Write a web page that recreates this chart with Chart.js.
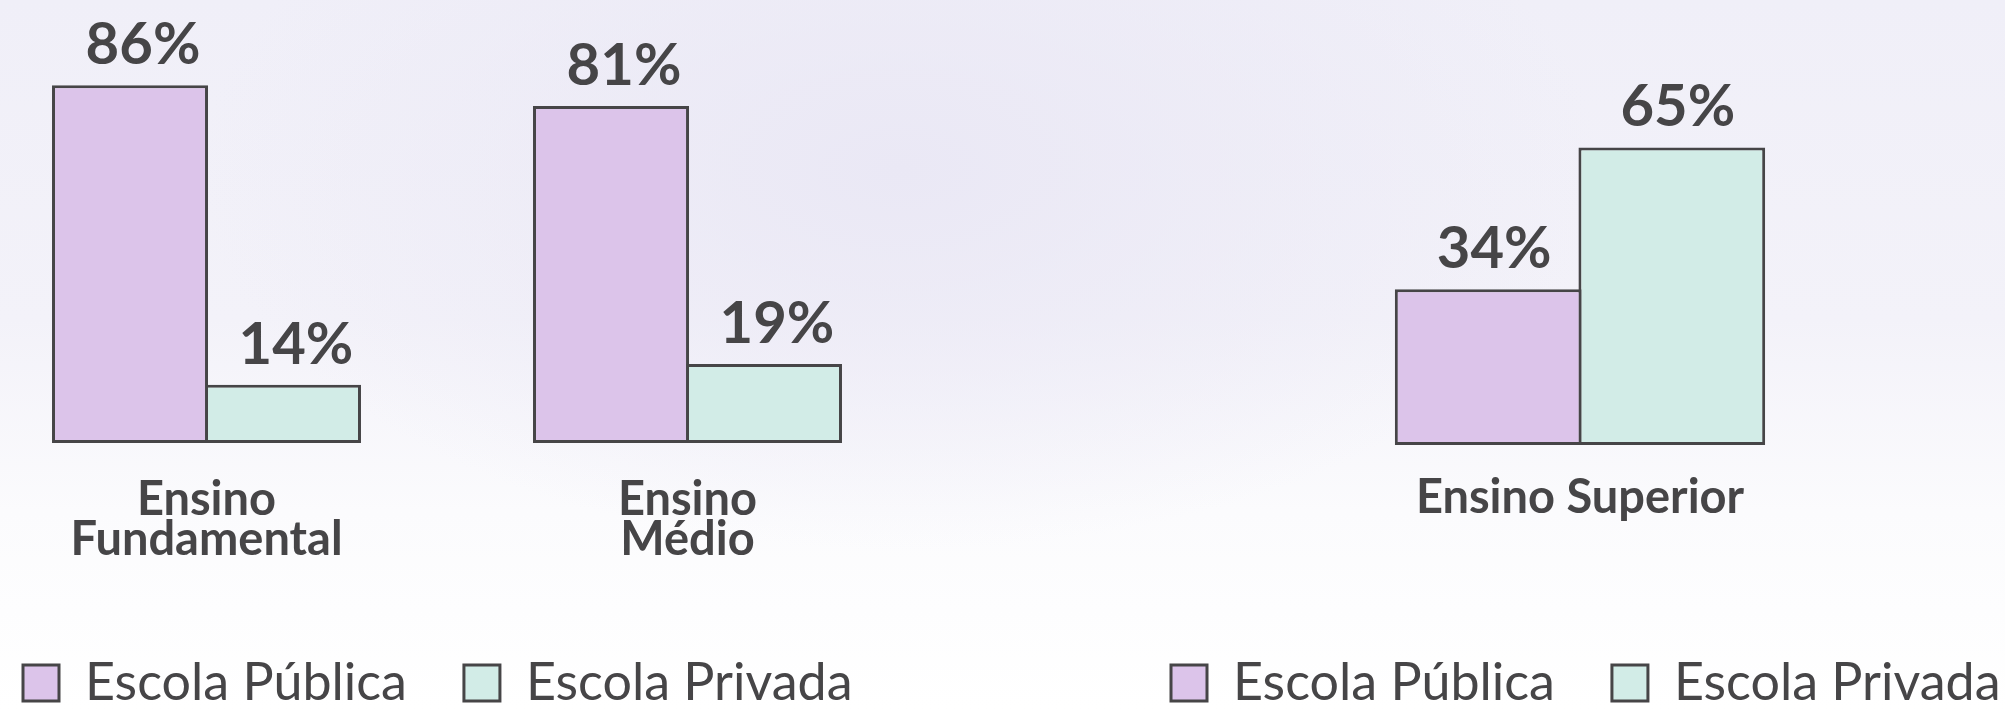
<!DOCTYPE html>
<html lang="pt-BR">
  <head>
    <meta charset="UTF-8" />
    <title>Escola Pública x Escola Privada</title>
    <script src="https://cdn.jsdelivr.net/npm/chart.js"></script>
    <style>
      * {
        margin: 0;
        padding: 0;
        box-sizing: border-box;
      }
      html,
      body {
        width: 2005px;
        height: 710px;
        overflow: hidden;
      }
      body {
        position: relative;
        font-family: Lato, sans-serif;
        background: radial-gradient(ellipse 700px 380px at 900px 170px, #eae8f5 0%, rgba(234, 232, 245, 0) 100%),
          linear-gradient(180deg, #f0eff8 0%, #f3f2f9 45%, #fbfbfd 72%, #ffffff 100%);
      }
      canvas {
        position: absolute;
        top: 0;
      }
      #chartLeft {
        left: -34px;
      }
      #chartRight {
        left: 1114px;
      }
    </style>
  </head>
  <body>
    <canvas id="chartLeft" width="1112" height="719"></canvas>
    <canvas id="chartRight" width="1082" height="719"></canvas>

    <script>
      // data
      const seriesNames = ["Escola Pública", "Escola Privada"];
      const categoriesLeft = [
        ["Ensino", "Fundamental"],
        ["Ensino", "Médio"],
      ];
      const publicaLeft = [86, 81];
      const privadaLeft = [14, 19];
      const categoriesRight = ["Ensino Superior"];
      const publicaRight = [34];
      const privadaRight = [65];

      const purple = "#dcc4ea";
      const teal = "#d2ece7";
      const ink = "#464547";

      Chart.defaults.font.family = "Lato, sans-serif";
      Chart.defaults.color = ink;

      // value labels above the bars
      const valueLabels = {
        id: "valueLabels",
        afterDatasetsDraw(chart, args, opts) {
          const ctx = chart.ctx;
          ctx.save();
          ctx.font = "bold 58px Lato, sans-serif";
          ctx.fillStyle = ink;
          ctx.textAlign = "center";
          ctx.textBaseline = "alphabetic";
          chart.data.datasets.forEach((ds, i) => {
            chart.getDatasetMeta(i).data.forEach((bar, j) => {
              ctx.fillText(ds.data[j] + "%", bar.x + opts.shift, bar.y - 21);
            });
          });
          ctx.restore();
        },
      };

      function makeChart(id, labels, publica, privada, opts) {
        const ds = (label, data, color) => ({
          label,
          data,
          backgroundColor: color,
          borderColor: ink,
          borderWidth: 3,
          borderSkipped: false,
          barPercentage: opts.barPct, // slight overlap so neighbours share one border
          categoryPercentage: opts.catPct,
        });

        return new Chart(document.getElementById(id), {
          type: "bar",
          data: {
            labels,
            datasets: [
              ds(seriesNames[0], publica, purple),
              ds(seriesNames[1], privada, teal),
            ],
          },
          options: {
            responsive: false,
            animation: false,
            layout: { padding: { top: opts.padTop } },
            plugins: {
              tooltip: { enabled: false },
              valueLabels: { shift: opts.labelShift },
              legend: {
                position: "bottom",
                align: "start",
                labels: {
                  boxWidth: 36,
                  boxHeight: 36,
                  padding: 57,
                  color: ink,
                  font: { size: 52 },
                },
              },
            },
            scales: {
              x: {
                grid: { display: false, drawTicks: false },
                border: { display: false },
                ticks: {
                  autoSkip: false,
                  maxRotation: 0,
                  padding: opts.tickPad,
                  color: ink,
                  font: { size: 47, weight: "bold", lineHeight: 0.87 },
                },
                afterFit: (s) => {
                  s.height = opts.axisHeight;
                },
              },
              y: {
                position: "right",
                min: 0,
                max: opts.yMax,
                grid: { display: false, drawTicks: false },
                border: { display: false },
                ticks: { display: false },
                afterFit: (s) => {
                  s.width = 150;
                },
              },
            },
          },
          plugins: [valueLabels],
        });
      }

      makeChart("chartLeft", categoriesLeft, publicaLeft, privadaLeft, {
        catPct: 0.636,
        barPct: 1.02,
        padTop: 27,
        yMax: 100,
        tickPad: 36,
        axisHeight: 157,
        labelShift: 13,
      });
      makeChart("chartRight", categoriesRight, publicaRight, privadaRight, {
        catPct: 0.394,
        barPct: 1.017,
        padTop: 33,
        yMax: 90,
        tickPad: 32,
        axisHeight: 155,
        labelShift: 6,
      });
    </script>
  </body>
</html>
